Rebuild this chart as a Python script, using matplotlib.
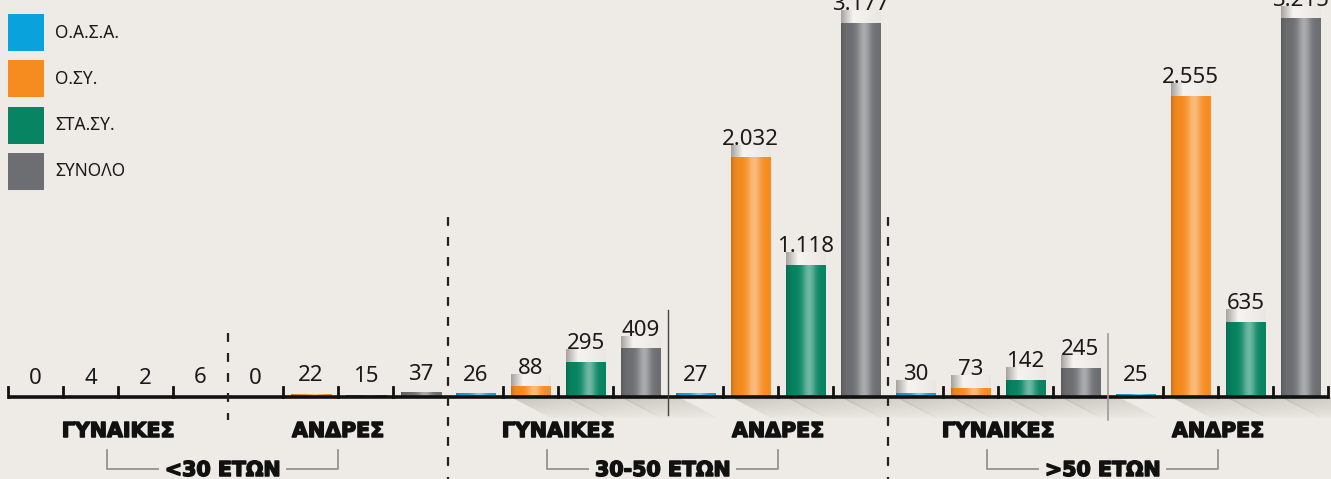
import matplotlib

matplotlib.use("Agg")
import matplotlib.patheffects as pe
import matplotlib.pyplot as plt
import numpy as np
from matplotlib.colors import to_rgb
from matplotlib.patches import Polygon, Rectangle

# --- data -------------------------------------------------------------------
series_names = ["Ο.Α.Σ.Α.", "Ο.ΣΥ.", "ΣΤΑ.ΣΥ.", "ΣΥΝΟΛΟ"]
series_colors = ["#0AA2DC", "#F68B1F", "#078461", "#6D6E71"]
age_groups = ["<30 ΕΤΩΝ", "30-50 ΕΤΩΝ", ">50 ΕΤΩΝ"]
genders = ["ΓΥΝΑΙΚΕΣ", "ΑΝΔΡΕΣ"]

# order: <30 women, <30 men, 30-50 women, 30-50 men, >50 women, >50 men
oasa = [0, 0, 26, 27, 30, 25]
osy = [4, 22, 88, 2032, 73, 2555]
stasy = [2, 15, 295, 1118, 142, 635]
total = [6, 37, 409, 3177, 245, 3215]
values = [oasa, osy, stasy, total]

# --- geometry (pixel based) -------------------------------------------------
W, H = 1331, 479
BG = "#EEEBE6"
AXIS_PX = 397
PX_PER_UNIT = 0.1177
SLOT_PX = 55
FIRST_CENTER_PX = 35.5
BOLD = dict(
    family="DejaVu Sans",
    fontweight="bold",
    fontsize=14.8,
    path_effects=[pe.withStroke(linewidth=1.1, foreground="#111111")],
)


def dx(px):
    return px / SLOT_PX


def dy(px):
    return px / PX_PER_UNIT


def y_at(px_from_top):
    return (AXIS_PX - px_from_top) / PX_PER_UNIT


def fmt(v):
    return f"{v:,}".replace(",", ".")


def cylinder(color, n=64):
    t = np.linspace(0, 1, n)
    base = np.array(to_rgb(color))
    light = base + (1 - base) * 0.42
    dark = base * 0.82
    hl = np.exp(-(((t - 0.58) / 0.17) ** 2))
    edge = np.exp(-t / 0.07)
    rgb = base[None, :] + (light - base)[None, :] * hl[:, None]
    rgb = rgb + (dark - base)[None, :] * edge[:, None]
    return np.clip(rgb, 0, 1)[None, :, :]


def cap_gradient(n=64):
    t = np.linspace(0, 1, n)
    stops_t = [0.0, 0.3, 1.0]
    stops_c = [to_rgb("#A6A39F"), to_rgb("#F6F4F1"), to_rgb("#EAE7E3")]
    rgb = np.stack(
        [np.interp(t, stops_t, [c[k] for c in stops_c]) for k in range(3)], axis=1
    )
    return rgb[None, :, :]


def shadow_gradient(nx=100, ny=22):
    u = np.linspace(0, 1, nx)[None, :]
    w = np.linspace(0, 1, ny)[:, None]
    rgba = np.zeros((ny, nx, 4))
    rgba[..., :3] = to_rgb("#9A968F")
    rgba[..., 3] = 0.45 * (1 - w) ** 0.7 * (1 - 0.55 * u)
    return rgba


fig = plt.figure(figsize=(W / 100, H / 100), dpi=100, facecolor=BG)
ax = fig.add_axes([0, 0, 1, 1])
ax.set_facecolor(BG)
ax.axis("off")

bar_w = dx(40)

for b in range(6):
    for s in range(4):
        slot = 4 * b + s
        v = values[s][b]
        color = series_colors[s]
        x0 = slot - bar_w / 2
        ax.add_patch(Rectangle((x0, 0), bar_w, v, fc=color, lw=0, zorder=2))
        if v > 0:
            ax.imshow(
                cylinder(color),
                extent=(x0, x0 + bar_w, 0, v),
                aspect="auto",
                interpolation="bilinear",
                zorder=2.1,
            )
        decorated = b >= 2 and v >= 30
        if decorated:
            ax.imshow(
                cap_gradient(),
                extent=(x0, x0 + bar_w, v, v + dy(13)),
                aspect="auto",
                interpolation="bilinear",
                zorder=2,
            )
            verts = [
                (x0, 0),
                (x0 + dx(58), 0),
                (x0 + dx(100), -dy(22)),
                (x0 + dx(42), -dy(22)),
            ]
            clip = Polygon(verts, closed=True, transform=ax.transData)
            im = ax.imshow(
                shadow_gradient(),
                extent=(x0, x0 + dx(100), -dy(22), 0),
                aspect="auto",
                interpolation="bilinear",
                zorder=1.5,
            )
            im.set_clip_path(clip)
        ax.text(
            slot,
            v + dy(13),
            fmt(v),
            ha="center",
            va="baseline",
            fontsize=16,
            family="Noto Sans",
            color="#1A1A1A",
            zorder=5,
        )

# axis line and ticks
ax.plot([-0.5, 23.5], [0, 0], color="#111111", lw=2.6, solid_capstyle="butt", zorder=3)
for i in range(25):
    if i in (0, 24) or i % 4:
        ax.plot([i - 0.5] * 2, [0, dy(10)], color="#111111", lw=2, zorder=3)

# separators
separators = [
    (3.5, 333, 420, (0, (4, 5)), "#222222", 1.6),
    (7.5, 217, 479, (0, (4, 5)), "#222222", 1.6),
    (11.5, 310, 415, "-", "#444444", 1.0),
    (15.5, 217, 479, (0, (4, 5)), "#222222", 1.6),
    (19.5, 334, 420, "-", "#9A9A9A", 1.2),
]
for x, top, bot, ls, col, lw in separators:
    ax.plot([x, x], [y_at(top), y_at(bot)], ls=ls, color=col, lw=lw, zorder=3)

# gender labels
for b in range(6):
    ax.text(
        4 * b + 1.5,
        y_at(437),
        genders[b % 2],
        ha="center",
        va="baseline",
        color="#111111",
        zorder=5,
        **BOLD,
    )

# age group labels with brackets
for g, name in enumerate(age_groups):
    left, right = 8 * g + 1.3, 8 * g + 5.5
    yb, yt = y_at(469), y_at(450)
    ax.plot(
        [left, left, right, right],
        [yt, yb, yb, yt],
        color="#8C8C8C",
        lw=1.2,
        zorder=3,
    )
    ax.text(
        8 * g + 3.4,
        y_at(476),
        name,
        ha="center",
        va="baseline",
        color="#111111",
        zorder=5,
        bbox=dict(fc=BG, ec="none", pad=4),
        **BOLD,
    )

ax.set_xlim(-FIRST_CENTER_PX / SLOT_PX, (W - FIRST_CENTER_PX) / SLOT_PX)
ax.set_ylim(y_at(H), y_at(0))

# legend
for i, (name, color) in enumerate(zip(series_names, series_colors)):
    top = 14 + 46.3 * i
    fig.add_artist(
        Rectangle(
            (8 / W, 1 - (top + 37) / H),
            36 / W,
            37 / H,
            transform=fig.transFigure,
            fc=color,
            lw=0,
        )
    )
    fig.text(
        55 / W,
        1 - (top + 18.5) / H,
        name,
        va="center",
        ha="left",
        fontsize=12.5,
        family="Noto Sans",
        color="#1A1A1A",
    )

fig.savefig("out.png", dpi=100, facecolor=BG)
plt.close(fig)
